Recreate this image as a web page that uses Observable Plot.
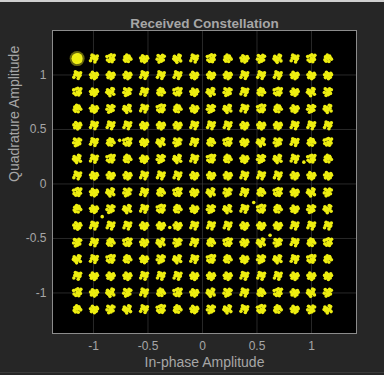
<!DOCTYPE html>
<html>
<head>
<meta charset="utf-8">
<script src="https://cdn.jsdelivr.net/npm/d3@7"></script>
<script src="https://cdn.jsdelivr.net/npm/@observablehq/plot@0.6"></script>
<style>
  html, body { margin: 0; padding: 0; background: #262626; }
  body { width: 384px; height: 375px; overflow: hidden; position: relative; }
  .topline { position: absolute; left: 0; top: 0; width: 384px; height: 2px; background: #cfcfcf; }
  .botline { position: absolute; left: 0; top: 372px; width: 384px; height: 1px; background: #3a3a3a; }
  #chart { position: absolute; left: 0; top: 0; }
</style>
</head>
<body>
<div class="topline"></div>
<div id="chart"></div>
<div class="botline"></div>
<script>
// 256-QAM grid levels (in-phase and quadrature)
const levels = [-1.150, -0.997, -0.844, -0.690, -0.537, -0.383, -0.230, -0.077,
                 0.077, 0.230, 0.383, 0.537, 0.690, 0.844, 0.997, 1.150];
// hand-read cluster spread patterns (offsets around each ideal point)
const spreadA = [[0,0],[0.022,0.010],[-0.022,0.016],[0.010,-0.027],[-0.027,-0.010],[0.033,-0.005],[-0.005,0.032],[0.016,0.024],[-0.016,-0.024],[0.008,0.005],[-0.010,0.008]];
const spreadB = [[0,0],[-0.030,0.005],[0.027,0.019],[0.005,-0.032],[-0.013,0.027],[0.022,-0.019],[-0.022,-0.021],[0.034,0.004],[0.000,0.016],[-0.008,-0.008],[0.012,-0.004]];
const spreadC = [[0,0],[0.016,0.030],[-0.032,-0.005],[0.024,-0.013],[-0.010,0.019],[0.005,-0.024],[-0.024,0.028],[0.032,0.021],[-0.016,-0.032],[0.012,0.006],[-0.006,-0.012]];
const spreadD = [[0,0],[-0.019,-0.016],[0.030,-0.021],[-0.027,0.021],[0.013,0.032],[0.019,0.005],[-0.005,-0.034],[-0.034,-0.002],[0.026,0.026],[0.004,-0.010],[-0.010,0.010]];
const spreadE = [[0,0],[0.027,0.000],[-0.016,0.032],[-0.030,-0.019],[0.010,-0.030],[0.032,0.024],[-0.008,0.012],[0.019,-0.010],[-0.021,0.005],[0.002,0.024],[0.010,0.012]];
const spreadF = [[0,0],[-0.010,0.027],[0.024,0.016],[-0.028,-0.012],[0.015,-0.028],[-0.032,0.019],[0.030,-0.008],[0.006,0.034],[-0.012,-0.026],[0.034,0.030],[0.008,-0.006]];
const spreads = [spreadA, spreadB, spreadC, spreadD, spreadE, spreadF];
// a few stray received samples
const strays = [[-0.92,-0.30],[-0.30,-0.40],[0.62,-0.47],[-0.76,0.40],[0.47,-0.17],[0.93,0.20]];
// reference marker (larger glow in the top-left corner)
const marker = [[-1.150, 1.150]];
const ticks = [-1, -0.5, 0, 0.5, 1];
const title = "Received Constellation";
const xLabel = "In-phase Amplitude";
const yLabel = "Quadrature Amplitude";

const samples = [];
levels.forEach((yv, j) => levels.forEach((xv, i) => {
  const s = spreads[(i * 7 + j * 5 + ((i * j) % 3)) % spreads.length];
  s.forEach(([dx, dy]) => samples.push({x: xv + dx, y: yv + dy}));
}));
strays.forEach(([x, y]) => samples.push({x, y}));

const fmt = d => String(d);
const txt = "#a6a6a6";
const chart = Plot.plot({
  width: 384, height: 375,
  marginLeft: 52, marginRight: 28, marginTop: 30, marginBottom: 42,
  x: {domain: [-1.376, 1.413]},
  y: {domain: [-1.372, 1.408]},
  style: {background: "transparent", color: txt, fontSize: "12px", fontFamily: "'Liberation Sans', Arial, sans-serif"},
  marks: [
    Plot.frame({fill: "black"}),
    Plot.gridX(ticks, {stroke: "#444444", strokeOpacity: 1, strokeWidth: 0.6}),
    Plot.gridY(ticks, {stroke: "#444444", strokeOpacity: 1, strokeWidth: 0.6}),
    Plot.dot(marker, {x: d => d[0], y: d => d[1], r: 7.5, fill: "#e6e61a", fillOpacity: 0.45}),
    Plot.dot(marker, {x: d => d[0], y: d => d[1], r: 5.5, fill: "#f0f020"}),
    Plot.dot(samples, {x: "x", y: "y", r: 1.8, fill: "#eeee10", stroke: "none"}),
    Plot.frame({stroke: "#8c8c8c"}),
    Plot.axisX(ticks, {tickFormat: fmt, tickSize: 0, tickPadding: 8, label: null, fill: txt}),
    Plot.axisY(ticks, {tickFormat: fmt, tickSize: 0, tickPadding: 6, label: null, fill: txt}),
    Plot.text([xLabel], {frameAnchor: "bottom", dy: 33, text: d => d, fontSize: 14, fill: txt}),
    Plot.text([yLabel], {frameAnchor: "left", dx: -38, rotate: -90, text: d => d, fontSize: 14, fill: txt}),
    Plot.text([title], {frameAnchor: "top", dy: -12, text: d => d, fontSize: 13.5, fontWeight: "bold", fill: txt})
  ]
});
document.getElementById("chart").appendChild(chart);
</script>
</body>
</html>
